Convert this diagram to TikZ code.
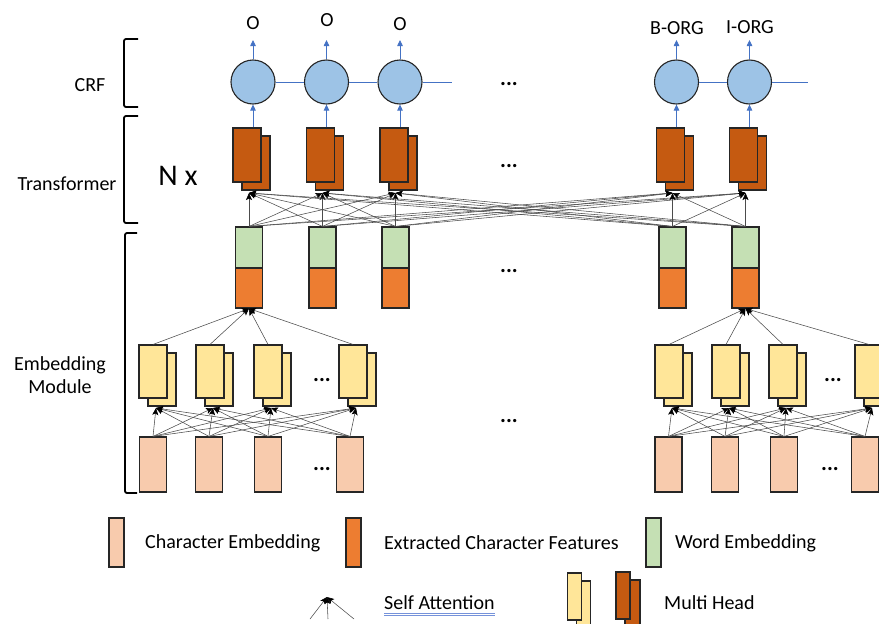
\documentclass[tikz,border=0pt]{standalone}
\usepackage{fontspec}
\setmainfont{Carlito}
\usetikzlibrary{arrows.meta}
\definecolor{charcol}{HTML}{F8CBAD}
\definecolor{featcol}{HTML}{ED7D31}
\definecolor{wordcol}{HTML}{C5E0B4}
\definecolor{headcol}{HTML}{FFE699}
\definecolor{trancol}{HTML}{C55A11}
\definecolor{crfcol}{HTML}{9DC3E6}
\definecolor{linkcol}{HTML}{4472C4}
\definecolor{inkcol}{HTML}{262626}
\definecolor{ulcol}{HTML}{7592DA}
\begin{document}
\begin{tikzpicture}[x=1pt,y=-1pt,
  font=\fontsize{20}{24}\selectfont,
  box/.style={draw=inkcol, line width=1.1pt, inner sep=0pt},
  charbox/.style={box, fill=charcol, minimum width=27pt, minimum height=55pt},
  featbox/.style={box, fill=featcol, minimum width=27pt, minimum height=40pt},
  wordbox/.style={box, fill=wordcol, minimum width=27pt, minimum height=41pt},
  headbox/.style={box, fill=headcol, minimum width=28pt, minimum height=53pt},
  tranbox/.style={box, fill=trancol, minimum width=28pt, minimum height=54pt},
  legbox/.style={box, minimum width=15pt, minimum height=49pt},
  crfnode/.style={circle, draw=inkcol, line width=1.1pt, fill=crfcol, minimum size=44pt, inner sep=0pt},
  link/.style={draw=linkcol, line width=0.8pt},
  uplink/.style={link, -{Triangle[length=6pt,width=5.5pt]}},
  att/.style={draw=black!70, line width=0.55pt, -{Stealth[length=7pt,width=6pt,inset=1.5pt,black]}},
  brace/.style={draw=black, line width=1.8pt, rounded corners=2pt},
  txt/.style={inner sep=0pt, text=black},
  dots/.style={inner sep=0pt, font=\fontsize{22}{24}\selectfont\bfseries}]
\useasboundingbox (0,0) rectangle (879,624);
\clip (0,0) rectangle (879,624);

% ---------- CRF layer and transformer blocks ----------
\foreach \x [count=\i] in {247,320.5,394,670.5,743.5} {
  \node[tranbox] (trb\i) at (\x+9,163) {};
  \node[tranbox] (trf\i) at (\x,155) {};
  \node[crfnode] (c\i) at (\x+6,82) {};
  \coordinate (out\i) at (\x+6,40);
  \draw[uplink] (trf\i.north -| c\i.south) -- (c\i.south);
  \draw[uplink] (c\i.north) -- (out\i);
}
\coordinate (crfendL) at (452,82);
\coordinate (crfendR) at (808,82);
\draw[link] (c1.east) -- (c2.west);
\draw[link] (c2.east) -- (c3.west);
\draw[link] (c3.east) -- (crfendL);
\draw[link] (c4.east) -- (c5.west);
\draw[link] (c5.east) -- (crfendR);

\node[txt] (l1) at (253,23) {O};
\node[txt] (l2) at (327,20) {O};
\node[txt] (l3) at (400,24) {O};
\node[txt] (l4) at (677,28) {B-ORG};
\node[txt] (l5) at (750,27) {I-ORG};

% ---------- word embedding + extracted character features ----------
\foreach \x [count=\i] in {249,322.5,395.5,672.5,745.5} {
  \node[wordbox] (g\i) at (\x,247.5) {};
  \node[featbox] (e\i) at (\x,288) {};
  \coordinate (tin\i) at (\x,193);
}
% self attention between word vectors and transformer
\foreach \i in {1,...,5} {
  \foreach \j in {1,...,5} {
    \draw[att] (g\i.north) -- (tin\j);
  }
}

% ---------- embedding module: multi-head blocks and character embeddings ----------
\foreach \x [count=\i] in {153,210,268,353,669,726,783,869} {
  \node[headbox] (hb\i) at (\x+9,379.5) {};
  \node[headbox] (hf\i) at (\x,371.5) {};
  \coordinate (hin\i) at (\x+3,408);
}
\foreach \x [count=\i] in {153,209,268,350,668.5,725,784,865} {
  \node[charbox] (ch\i) at (\x,464.5) {};
}
\foreach \i in {1,...,4} {
  \foreach \j in {1,...,4} {
    \draw[att] (ch\i.north) -- (hin\j);
  }
  \draw[att] (hf\i.north) -- (e1.south);
}
\foreach \i in {5,...,8} {
  \foreach \j in {5,...,8} {
    \draw[att] (ch\i.north) -- (hin\j);
  }
  \draw[att] (hf\i.north) -- (e5.south);
}

% ---------- ellipses ----------
\node[dots] (d1) at (509,84) {...};
\node[dots] (d2) at (509,166) {...};
\node[dots] (d3) at (509,271) {...};
\node[dots] (d4) at (509,421) {...};
\node[dots] (d5) at (322,380) {...};
\node[dots] (d6) at (322,469) {...};
\node[dots] (d7) at (833,380) {...};
\node[dots] (d8) at (830,469) {...};

% ---------- layer brackets and labels ----------
\draw[brace] (138,39) -- (124,39) -- (124,107) -- (138,107);
\draw[brace] (138,116) -- (124,116) -- (124,223) -- (138,223);
\draw[brace] (137,233) -- (125,233) -- (125,493) -- (137,493);
\node[txt] (crf) at (90,85) {CRF};
\node[txt] (tra) at (67,184) {Transformer};
\node[txt, font=\fontsize{30}{34}\selectfont] (nx) at (178,176) {N x};
\node[txt, align=center] (emb) at (60,375) {Embedding\\[-0.5pt]Module};

% ---------- legend ----------
\node[legbox, fill=charcol] (k1) at (116.5,542.5) {};
\node[txt, anchor=west] (k1t) at (145,543) {Character Embedding};
\node[legbox, fill=featcol] (k2) at (353.5,542.5) {};
\node[txt, anchor=west] (k2t) at (384,543) {Extracted Character Features};
\node[legbox, fill=wordcol] (k3) at (653.5,542.5) {};
\node[txt, anchor=west] (k3t) at (675,543) {Word Embedding};

\coordinate (apex) at (327,597);
\coordinate (foot1) at (310,619);
\coordinate (foot2) at (328,619);
\coordinate (foot3) at (354,619);
\draw[att] (foot1) -- (apex);
\draw[att] (foot2) -- (apex);
\draw[att] (foot3) -- (apex);
\node[txt, anchor=west] (k4t) at (384,603) {Self Attention};
\draw[ulcol, line width=0.7pt] (k4t.south west) ++(0,3) coordinate (ul1) -- (ul1 -| k4t.south east);
\draw[ulcol, line width=0.7pt] (k4t.south west) ++(0,5) coordinate (ul2) -- (ul2 -| k4t.south east);

\node[box, fill=headcol, minimum width=14pt, minimum height=50pt] (k5b) at (583.5,606) {};
\node[box, fill=headcol, minimum width=14pt, minimum height=47pt] (k5f) at (574.5,596.5) {};
\node[box, fill=trancol, minimum width=15pt, minimum height=50pt] (k6b) at (632.5,605) {};
\node[box, fill=trancol, minimum width=14pt, minimum height=47pt] (k6f) at (623,595.5) {};
\node[txt, anchor=west] (k6t) at (664,603) {Multi Head};
\end{tikzpicture}
\end{document}
